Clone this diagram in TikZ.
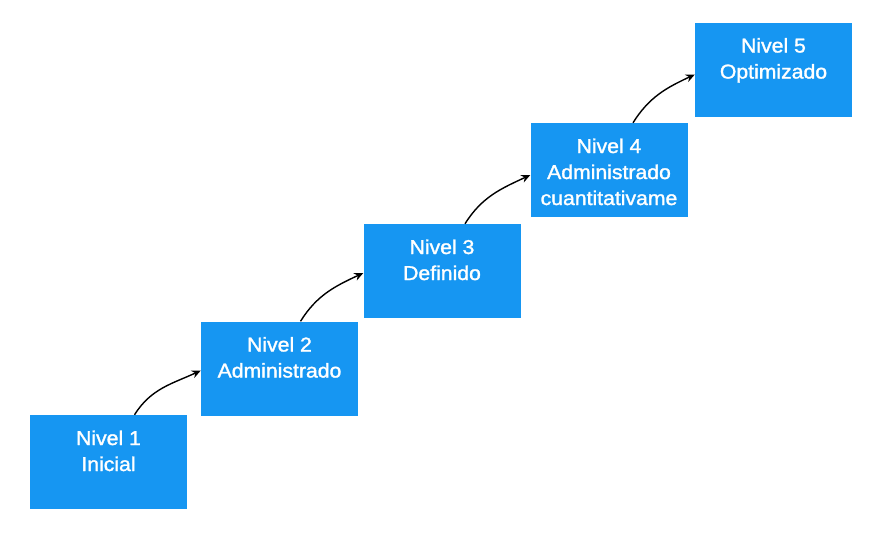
\documentclass[tikz,border=0pt]{standalone}
\usepackage{fontspec}
\setmainfont{Liberation Sans}[BoldFont=Liberation Sans, BoldFeatures={FakeBold=1.5, FakeStretch=1.06}]
\usetikzlibrary{arrows.meta}
\definecolor{boxblue}{RGB}{22,150,242}
\tikzset{
  levelbox/.style={fill=boxblue, draw=none, inner sep=0pt, minimum width=157pt, minimum height=94pt, text=white, font=\fontsize{20}{26}\selectfont\bfseries},
  steparrow/.style={draw=black, line width=1.4pt, -{Stealth[length=9pt,width=8pt]}}
}
\newcommand{\boxtext}[2]{\parbox[c][94pt][t]{157pt}{\centering\rule{0pt}{30pt}#1\\#2}}
\newcommand{\boxtextiii}[3]{\parbox[c][94pt][t]{157pt}{\centering\rule{0pt}{30pt}#1\\#2\\#3}}
\begin{document}
\begin{tikzpicture}[x=1pt,y=-1pt]
\useasboundingbox[fill=white] (0,0) rectangle (873,533);
\node[levelbox] (b1) at (108.5,462) {\boxtext{Nivel 1}{Inicial}};
\node[levelbox] (b2) at (279.5,368.5) {\boxtext{Nivel 2}{Administrado}};
\node[levelbox] (b3) at (442,271) {\boxtext{Nivel 3}{Definido}};
\node[levelbox] (b4) at (609,170) {\boxtextiii{Nivel 4}{Administrado}{cuantitativame}};
\node[levelbox] (b5) at (773.5,69.5) {\boxtext{Nivel 5}{Optimizado}};
\draw[steparrow] ([xshift=26pt]b1.north) to[out=58,in=205] ([yshift=-2pt]b2.west);
\draw[steparrow] ([xshift=21pt]b2.north) to[out=58,in=205] ([yshift=-2pt]b3.west);
\draw[steparrow] ([xshift=23pt]b3.north) to[out=58,in=205] ([yshift=-5pt]b4.west);
\draw[steparrow] ([xshift=24pt]b4.north) to[out=58,in=205] ([yshift=-5pt]b5.west);
\end{tikzpicture}
\end{document}
